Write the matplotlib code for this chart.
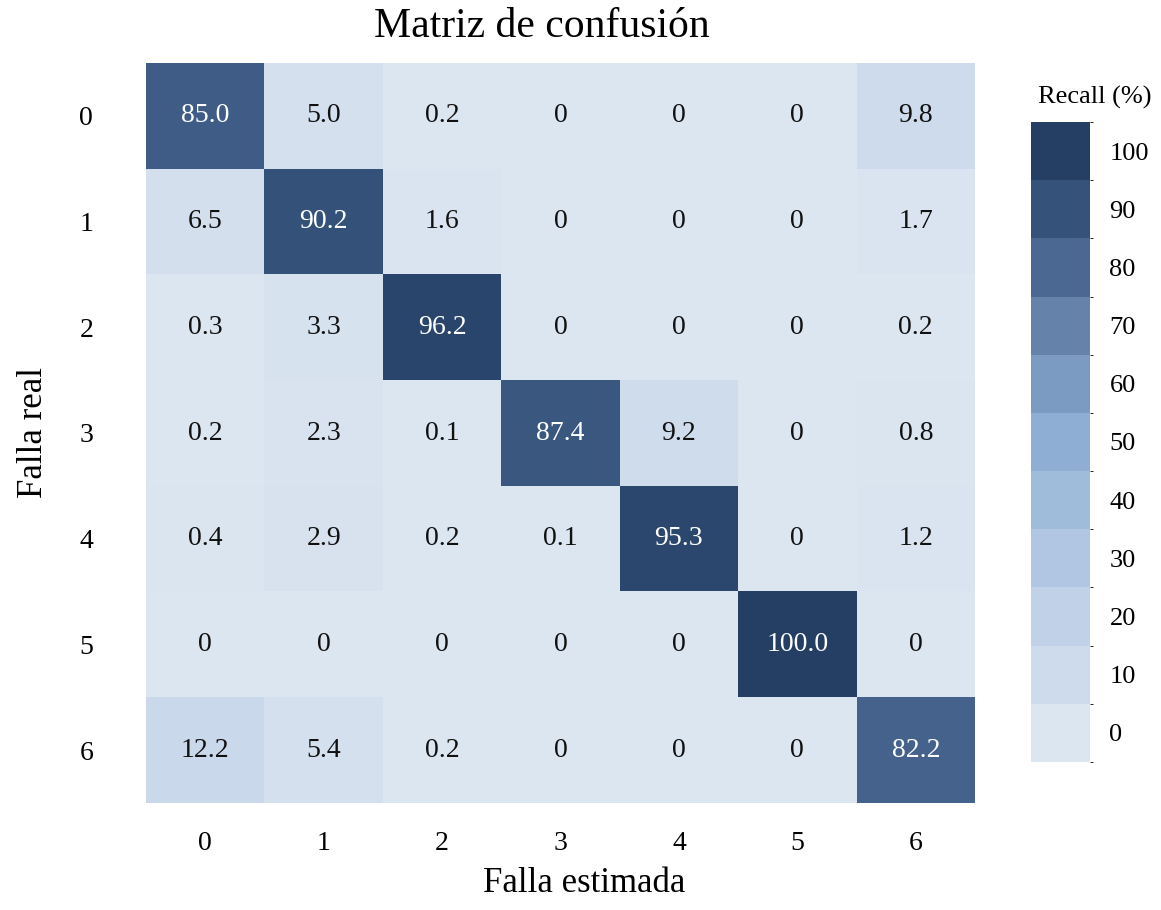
import numpy as np
import matplotlib
matplotlib.use("Agg")
import matplotlib.pyplot as plt
from matplotlib.colors import LinearSegmentedColormap, ListedColormap, BoundaryNorm

plt.rcParams['font.family'] = ['Liberation Serif', 'DejaVu Serif']

# confusion matrix values (recall %)
classes = ['0', '1', '2', '3', '4', '5', '6']
recall = np.array([
    [85.0, 5.0, 0.2, 0, 0, 0, 9.8],
    [6.5, 90.2, 1.6, 0, 0, 0, 1.7],
    [0.3, 3.3, 96.2, 0, 0, 0, 0.2],
    [0.2, 2.3, 0.1, 87.4, 9.2, 0, 0.8],
    [0.4, 2.9, 0.2, 0.1, 95.3, 0, 1.2],
    [0, 0, 0, 0, 0, 100.0, 0],
    [12.2, 5.4, 0.2, 0, 0, 0, 82.2],
])
cbar_levels = [0, 10, 20, 30, 40, 50, 60, 70, 80, 90, 100]

band_colors = ['#dce6f1', '#cedbec', '#c0d1e8', '#b0c6e2', '#a0bcdb', '#8eaed4',
               '#7c9bc2', '#6583aa', '#4a6891', '#34527a', '#243f63']
cmap = LinearSegmentedColormap.from_list('recall', band_colors)

W, H = 1161, 910
fig = plt.figure(figsize=(W / 100, H / 100), dpi=100)

def px_axes(x0, y0, x1, y1):
    return fig.add_axes([x0 / W, 1 - y1 / H, (x1 - x0) / W, (y1 - y0) / H])

ax = px_axes(146, 63, 975, 803)
ax.imshow(recall, cmap=cmap, vmin=0, vmax=100, aspect='auto')

for i in range(recall.shape[0]):
    for j in range(recall.shape[1]):
        v = recall[i, j]
        txt = '0' if v == 0 else f'{v:.1f}'
        color = 'white' if v > 50 else '#111111'
        ax.text(j, i, txt, ha='center', va='center', fontsize=20, color=color)

ax.set_xticks(range(len(classes)))
ax.set_xticklabels(classes, fontsize=20)
ax.set_yticks(range(len(classes)))
ax.set_yticklabels(classes, fontsize=20)
ax.tick_params(axis='x', length=0, pad=20)
ax.tick_params(axis='y', length=0, pad=38)
for s in ax.spines.values():
    s.set_visible(False)

fig.text(542 / W, 1 - 27 / H, 'Matriz de confusión', ha='center', va='center', fontsize=30)
fig.text(584 / W, 1 - 884 / H, 'Falla estimada', ha='center', va='center', fontsize=25)
fig.text(34 / W, 1 - 432 / H, 'Falla real', ha='center', va='center', fontsize=25, rotation=90)

# discrete colorbar
cax = px_axes(1031, 122, 1090, 762)
bounds = np.arange(-5, 106, 10)
cb = fig.colorbar(plt.cm.ScalarMappable(norm=BoundaryNorm(bounds, len(band_colors)),
                                        cmap=ListedColormap(band_colors)),
                  cax=cax, ticks=cbar_levels)
cb.outline.set_visible(False)
cb.ax.tick_params(length=0, pad=14, labelsize=19)
fig.text(1095 / W, 1 - 97 / H, 'Recall (%)', ha='center', va='center', fontsize=19)

fig.savefig('out.png', dpi=100)
